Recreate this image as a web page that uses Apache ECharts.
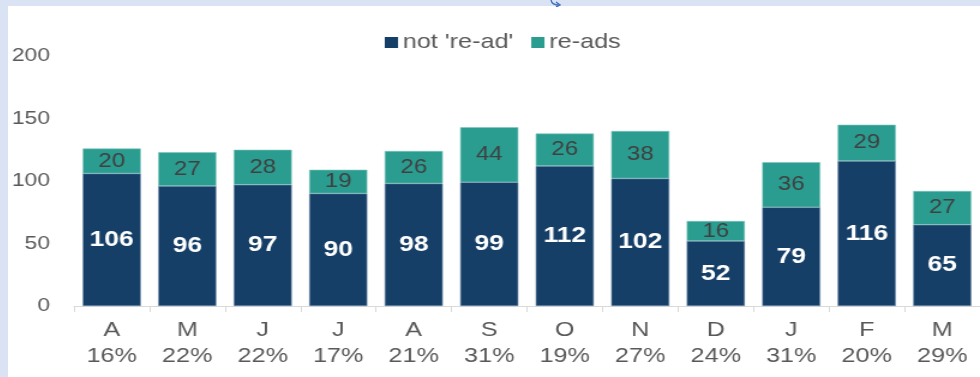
<!DOCTYPE html>
<html>
<head>
<meta charset="utf-8">
<script src="https://cdn.jsdelivr.net/npm/echarts@6/dist/echarts.min.js"></script>
<style>
  html, body { margin: 0; padding: 0; background: #dae3f3; width: 980px; height: 377px; overflow: hidden; }
  #frame { position: absolute; left: 8px; top: 6px; width: 972px; height: 371px; background: #ffffff; overflow: hidden; }
  /* the chart is laid out narrower and widened horizontally, like a stretched embedded chart */
  #chart { position: absolute; left: 0; top: 0; width: 810px; height: 371px; transform: scaleX(1.2); transform-origin: 0 0; }
  #connector { position: absolute; left: 545px; top: 0; }
</style>
</head>
<body>
<div id="frame"><div id="chart"></div></div>
<svg id="connector" width="20" height="7" viewBox="0 0 20 7">
  <path d="M6,0 Q7,5 14,5" fill="none" stroke="#4472c4" stroke-width="1.4"/>
  <path d="M11,2 L15,5 L11,7" fill="none" stroke="#4472c4" stroke-width="1.4"/>
</svg>
<script>
// Monthly counts, split into ads not re-run and re-runs
const months = ['A', 'M', 'J', 'J', 'A', 'S', 'O', 'N', 'D', 'J', 'F', 'M'];
const reAdShare = ['16%', '22%', '22%', '17%', '21%', '31%', '19%', '27%', '24%', '31%', '20%', '29%'];
const notReAd = [106, 96, 97, 90, 98, 99, 112, 102, 52, 79, 116, 65];
const reAds = [20, 27, 28, 19, 26, 44, 26, 38, 16, 36, 29, 27];
const yTicks = { min: 0, max: 200, interval: 50 };

const categories = months.map((m, i) => m + '\n' + reAdShare[i]);
const font = 'Liberation Sans, Arial, sans-serif';

const chart = echarts.init(document.getElementById('chart'), null, { renderer: 'canvas' });
chart.setOption({
  animation: false,
  textStyle: { fontFamily: font },
  legend: {
    left: 314, top: 26, padding: 0,
    itemWidth: 11, itemHeight: 11, itemGap: 15,
    icon: 'rect',
    itemStyle: { borderWidth: 0 },
    textStyle: { fontSize: 21, color: '#595959', fontFamily: font, padding: [0, 0, 0, -1] },
    data: ["not 're-ad'", 're-ads']
  },
  grid: { left: 55, right: 0, top: 50, bottom: 71, containLabel: false },
  xAxis: {
    type: 'category',
    data: categories,
    axisLine: { lineStyle: { color: '#d9d9d9', width: 1 } },
    axisTick: { show: true, length: 6, lineStyle: { color: '#d9d9d9' } },
    axisLabel: { fontSize: 21, color: '#595959', lineHeight: 26, margin: 11, fontFamily: font, interval: 0 }
  },
  yAxis: {
    type: 'value',
    min: yTicks.min, max: yTicks.max, interval: yTicks.interval,
    splitLine: { show: false },
    axisLine: { show: false },
    axisTick: { show: false },
    axisLabel: { fontSize: 19, color: '#595959', margin: 20, fontFamily: font }
  },
  series: [
    {
      name: "not 're-ad'",
      type: 'bar',
      stack: 'total',
      data: notReAd,
      barCategoryGap: '23%',
      itemStyle: { color: '#163f67', borderColor: '#6d8aa8', borderWidth: 0.6 },
      label: { show: true, position: 'inside', color: '#ffffff', fontWeight: 'bold', fontSize: 22, fontFamily: font }
    },
    {
      name: 're-ads',
      type: 'bar',
      stack: 'total',
      data: reAds,
      barCategoryGap: '23%',
      itemStyle: { color: '#2a9d90', borderColor: '#7fc4bc', borderWidth: 0.6 },
      label: { show: true, position: 'inside', color: '#404040', fontSize: 20, fontFamily: font }
    }
  ]
});
</script>
</body>
</html>
